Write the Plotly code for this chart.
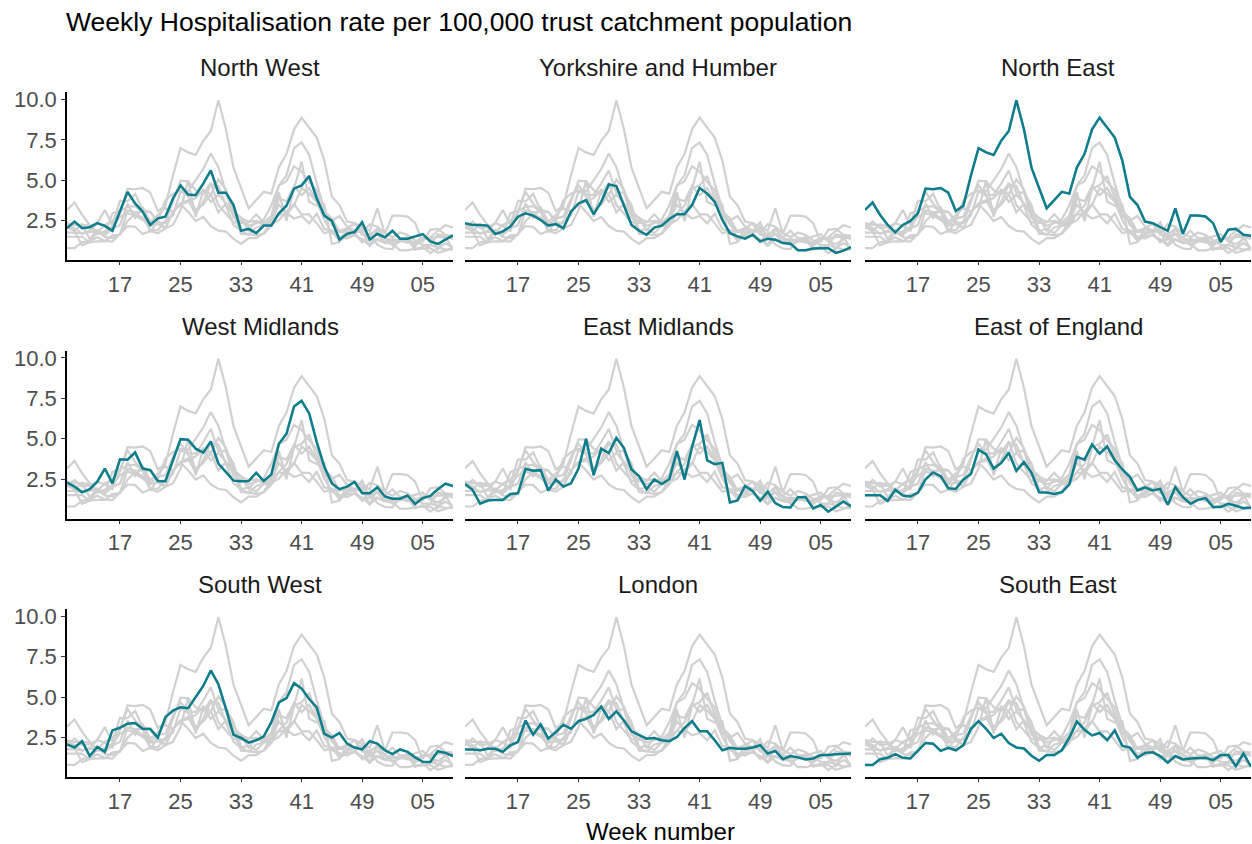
import plotly.graph_objects as go

weeks = [str(w) for w in range(10, 53)] + ["%02d" % w for w in range(1, 10)]
tick_labels = ["17", "25", "33", "41", "49", "05"]

regions = ["North West", "Yorkshire and Humber", "North East",
           "West Midlands", "East Midlands", "East of England",
           "South West", "London", "South East"]

north_west = [2.03,2.44,2.03,2.09,2.34,2.17,1.87,3.05,4.28,3.56,3.05,2.23,2.64,2.74,3.87,4.68,4.11,4.07,4.79,5.6,4.23,4.23,3.46,1.87,1.99,1.72,2.19,2.19,2.95,3.42,4.48,4.68,5.26,3.87,2.81,2.48,1.32,1.68,1.79,2.4,1.32,1.68,1.46,1.87,1.38,1.38,1.52,1.66,1.21,1.05,1.32,1.58]
yorkshire = [2.34,2.23,2.23,2.19,1.66,1.83,2.13,2.74,2.95,2.81,2.54,2.19,2.28,2.03,3.05,3.56,3.77,2.89,3.66,4.74,4.64,3.46,2.23,1.87,1.62,2.07,2.19,2.6,2.89,2.89,3.46,4.52,4.17,3.66,2.54,1.72,1.52,1.38,1.62,1.21,1.38,1.32,1.11,1.07,0.66,0.66,0.77,0.79,0.79,0.5,0.64,0.85]
north_east = [3.16,3.62,2.85,2.23,1.77,2.23,2.48,2.95,4.48,4.44,4.52,4.23,3.09,3.42,5.3,6.99,6.72,6.56,7.44,8.05,9.95,8.15,5.77,4.48,3.26,3.77,4.28,4.17,5.8,6.62,8.15,8.87,8.25,7.64,6.21,3.97,3.46,2.44,2.34,2.13,1.87,3.26,1.68,2.81,2.81,2.75,2.34,1.17,1.93,1.99,1.62,1.56]
west_midlands = [2.28,2.03,1.68,1.87,2.34,3.15,2.23,3.72,3.7,4.15,3.15,3.05,2.38,2.36,3.66,4.97,4.93,4.38,4.13,4.83,3.46,2.95,2.4,2.36,2.38,2.89,2.38,2.79,4.68,5.3,6.99,7.34,6.56,4.79,3.26,2.23,1.87,2.03,2.32,1.62,1.62,1.99,1.42,1.28,1.28,1.48,0.95,1.32,1.46,1.87,2.21,2.07]
east_midlands = [2.19,1.83,0.97,1.17,1.21,1.21,1.58,1.62,3.13,3.01,3.05,1.79,2.48,2.03,2.23,3.15,4.99,2.74,4.38,4.11,5.05,4.42,3.09,2.68,1.87,2.48,2.19,2.5,4.23,2.48,4.48,6.15,3.66,3.42,3.5,1.05,1.17,2.07,1.77,1.15,1.72,1.01,0.77,0.74,1.38,1.38,0.68,0.89,0.48,0.77,1.11,0.81]
east_of_england = [1.5,1.5,1.5,1.15,1.83,1.48,1.42,1.66,2.48,2.91,2.68,1.93,1.89,2.48,2.81,4.32,4.03,3.15,3.5,4.13,3.01,3.56,2.89,1.68,1.66,1.58,1.68,2.17,3.87,3.7,4.64,4.07,4.52,3.66,3.09,2.64,1.79,1.99,1.79,1.89,0.91,1.99,1.38,0.97,1.21,1.32,0.77,0.77,0.97,0.85,0.7,0.72]
south_west = [2.08,1.88,2.27,1.35,1.92,1.61,2.94,3.1,3.35,3.39,3.04,3.02,2.49,3.76,4.16,4.37,4.31,4.98,5.69,6.65,5.8,4.27,2.67,2.47,2.18,2.33,2.57,3.45,4.67,4.94,5.86,5.53,4.88,4.37,2.73,2.49,2.78,2.12,1.88,1.76,2.27,2.12,1.71,1.47,1.76,1.61,1.27,1.0,0.98,1.65,1.55,1.35]
london = [1.76,1.76,1.71,1.8,1.8,1.61,2.02,2.22,3.55,2.67,3.31,2.43,2.84,3.29,3.04,3.51,3.65,3.9,4.41,3.65,4.12,3.55,2.88,2.63,2.43,2.47,2.33,2.27,2.53,3.08,3.51,2.88,2.88,2.33,1.71,1.86,1.8,1.8,1.88,2.02,1.51,1.67,1.16,1.35,1.27,1.14,1.2,1.41,1.41,1.47,1.47,1.51]
south_east = [0.8,0.8,1.16,1.24,1.47,1.24,1.2,1.71,2.16,2.12,1.67,1.86,1.71,2.02,3.04,3.51,3.04,2.47,2.73,2.16,1.88,1.82,1.37,1.06,1.41,1.41,1.71,2.49,3.49,2.98,2.63,2.78,2.33,2.94,1.98,1.88,1.24,1.55,1.59,1.35,0.94,1.35,1.14,1.2,1.24,1.24,1.1,1.41,1.41,0.73,1.51,0.69]

series = [north_west, yorkshire, north_east, west_midlands, east_midlands,
          east_of_england, south_west, london, south_east]

W, H = 1252, 844
xdom = [(67, 453), (465, 851), (865, 1251)]
ydom = [(88, 257), (348, 517), (608, 777)]
TEAL = "#0b7d8c"
GREY = "#d0d0d0"
FONT = "Liberation Sans, Arial, sans-serif"

fig = go.Figure()
idx = list(range(len(weeks)))
tickvals = [weeks.index(t) for t in tick_labels]

for p, name in enumerate(regions):
    r, c = divmod(p, 3)
    n = p + 1
    xa = "x" if n == 1 else f"x{n}"
    ya = "y" if n == 1 else f"y{n}"
    for s in series:
        fig.add_trace(go.Scatter(x=idx, y=s, mode="lines", xaxis=xa, yaxis=ya,
                                 line=dict(color=GREY, width=2.2), showlegend=False,
                                 hoverinfo="skip"))
    fig.add_trace(go.Scatter(x=idx, y=series[p], mode="lines", xaxis=xa, yaxis=ya,
                             line=dict(color=TEAL, width=2.5), showlegend=False,
                             name=name))
    x0, x1 = xdom[c]
    y0, y1 = ydom[r]
    kx = "xaxis" if n == 1 else f"xaxis{n}"
    ky = "yaxis" if n == 1 else f"yaxis{n}"
    fig.layout[kx] = dict(domain=[x0 / W, x1 / W], anchor=ya, range=[0, len(weeks) - 1],
                          tickvals=tickvals, ticktext=tick_labels, showline=True,
                          linecolor="black", linewidth=1.5, ticks="outside", ticklen=3,
                          tickcolor="#333", showgrid=False, zeroline=False,
                          tickfont=dict(size=22, color="#4d4d4d", family=FONT))
    fig.layout[ky] = dict(domain=[1 - y1 / H, 1 - y0 / H], anchor=xa, range=[0.03, 10.43],
                          tickvals=[2.5, 5, 7.5, 10], ticktext=["2.5", "5.0", "7.5", "10.0"],
                          showline=(c == 0), showticklabels=(c == 0),
                          ticks="outside" if c == 0 else "", ticklen=4, tickcolor="#333",
                          linecolor="black", linewidth=1.5, showgrid=False, zeroline=False,
                          tickfont=dict(size=22, color="#4d4d4d", family=FONT))
    fig.add_annotation(text=name, x=(x0 + x1) / 2 / W, y=1 - (y0 - 20) / H, xref="paper",
                       yref="paper", showarrow=False, xanchor="center", yanchor="middle",
                       yshift=5, font=dict(size=24, color="#1a1a1a", family=FONT))

fig.add_annotation(text="Weekly Hospitalisation rate per 100,000 trust catchment population",
                   x=64 / W, y=1 - 17 / H, xref="paper", yref="paper", showarrow=False,
                   xanchor="left", yanchor="middle", font=dict(size=26.5, color="black", family=FONT))
fig.add_annotation(text="Week number", x=660 / W, y=1 - 831 / H, xref="paper", yref="paper",
                   showarrow=False, xanchor="center", yanchor="middle",
                   font=dict(size=24, color="black", family=FONT))

fig.update_layout(width=W, height=H, margin=dict(l=0, r=0, t=0, b=0),
                  plot_bgcolor="white", paper_bgcolor="white", font=dict(family=FONT))
fig.write_html("out.html", config={"displayModeBar": False})

with open("out.html", encoding="utf-8") as f:
    html = f.read()
html = html.replace("<body>", '<body style="margin:0;padding:0;overflow:hidden">', 1)
with open("out.html", "w", encoding="utf-8") as f:
    f.write(html)
